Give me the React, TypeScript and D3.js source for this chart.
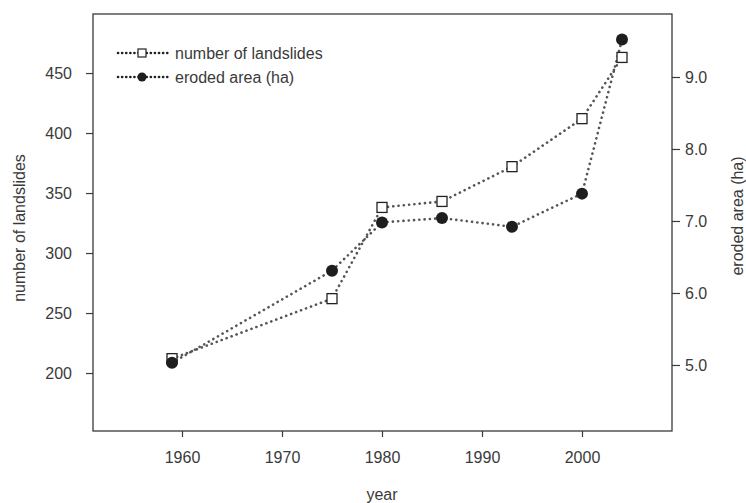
// @ts-nocheck
import React, { useEffect, useRef } from 'react';
import * as d3 from 'd3';

// data
const years = [1959, 1975, 1980, 1986, 1993, 2000, 2004];
const landslides = [212, 262, 338, 343, 372, 412, 463];
const erodedArea = [5.03, 6.31, 6.98, 7.04, 6.92, 7.38, 9.52];

const yearTicks = [1960, 1970, 1980, 1990, 2000];
const leftTicks = [200, 250, 300, 350, 400, 450];
const rightTicks = [5, 6, 7, 8, 9];

const seriesNames = ['number of landslides', 'eroded area (ha)'];

const W = 746, H = 503;
const box = { left: 93, right: 672, top: 14, bottom: 431 };
const font = '"Liberation Sans", Arial, sans-serif';
const ink = '#3a3a3a';
const dotLine = { stroke: '#555', width: 2.6, dash: '0.1 5.2' };

export default function App() {
    const ref = useRef(null);

    useEffect(() => {
        const svg = d3.select(ref.current);
        svg.selectAll('*').remove();

        const x = d3.scaleLinear().domain([1951.1, 2009]).range([box.left, box.right]);
        const yL = d3.scaleLinear().domain([151.7, 499.2]).range([box.bottom, box.top]);
        const yR = d3.scaleLinear().domain([4.083, 9.875]).range([box.bottom, box.top]);

        // frame
        svg.append('rect')
            .attr('x', box.left).attr('y', box.top)
            .attr('width', box.right - box.left).attr('height', box.bottom - box.top)
            .attr('fill', 'none').attr('stroke', ink).attr('stroke-width', 1.3);

        const styleAxis = (g) => {
            g.select('.domain').remove();
            g.selectAll('line').attr('stroke', ink).attr('stroke-width', 1.2);
            g.selectAll('text').attr('fill', ink).style('font-family', font).style('font-size', '16px');
        };

        svg.append('g')
            .attr('transform', `translate(0,${box.bottom})`)
            .call(d3.axisBottom(x).tickValues(yearTicks).tickSize(6).tickPadding(15).tickFormat(d3.format('d')))
            .call(styleAxis);

        svg.append('g')
            .attr('transform', `translate(${box.left},0)`)
            .call(d3.axisLeft(yL).tickValues(leftTicks).tickSize(7).tickPadding(14).tickFormat(d3.format('d')))
            .call(styleAxis);

        svg.append('g')
            .attr('transform', `translate(${box.right},0)`)
            .call(d3.axisRight(yR).tickValues(rightTicks).tickSize(8).tickPadding(5).tickFormat(d3.format('.1f')))
            .call(styleAxis);

        // axis titles
        const title = (tx, ty, rot, txt) => svg.append('text')
            .attr('transform', `translate(${tx},${ty}) rotate(${rot})`)
            .attr('text-anchor', 'middle')
            .attr('dominant-baseline', 'central')
            .attr('fill', ink)
            .style('font-family', font).style('font-size', '16px')
            .text(txt);
        title(382, 494, 0, 'year');
        title(19, 228, -90, seriesNames[0]);
        title(737, 216, -90, seriesNames[1]);

        const landData = years.map((yr, i) => ({ yr, v: landslides[i] }));
        const areaData = years.map((yr, i) => ({ yr, v: erodedArea[i] }));

        const lineL = d3.line().x(d => x(d.yr)).y(d => yL(d.v));
        const lineR = d3.line().x(d => x(d.yr)).y(d => yR(d.v));

        const drawLine = (d) => svg.append('path')
            .attr('d', d)
            .attr('fill', 'none')
            .attr('stroke', dotLine.stroke)
            .attr('stroke-width', dotLine.width)
            .attr('stroke-linecap', 'round')
            .attr('stroke-dasharray', dotLine.dash);

        drawLine(lineL(landData));
        drawLine(lineR(areaData));

        // open squares for landslides
        const sq = 10;
        svg.append('g').selectAll('rect')
            .data(landData)
            .join('rect')
            .attr('x', d => x(d.yr) - sq / 2)
            .attr('y', d => yL(d.v) - sq / 2)
            .attr('width', sq).attr('height', sq)
            .attr('fill', 'white').attr('stroke', '#222').attr('stroke-width', 1.3);

        // filled circles for eroded area
        svg.append('g').selectAll('circle')
            .data(areaData)
            .join('circle')
            .attr('cx', d => x(d.yr))
            .attr('cy', d => yR(d.v))
            .attr('r', 6)
            .attr('fill', '#1e1e1e');

        // legend
        const legend = svg.append('g');
        const rows = [53, 77];
        rows.forEach((ly, i) => {
            legend.append('line')
                .attr('x1', 118).attr('x2', 168).attr('y1', ly).attr('y2', ly)
                .attr('stroke', '#222').attr('stroke-width', 2.6)
                .attr('stroke-linecap', 'round').attr('stroke-dasharray', '0.1 4');
            if (i === 0) {
                legend.append('rect')
                    .attr('x', 142 - 4).attr('y', ly - 4).attr('width', 8).attr('height', 8)
                    .attr('fill', 'white').attr('stroke', '#222').attr('stroke-width', 1.2);
            } else {
                legend.append('circle')
                    .attr('cx', 142).attr('cy', ly).attr('r', 4.5).attr('fill', '#1e1e1e');
            }
            legend.append('text')
                .attr('x', 175).attr('y', ly)
                .attr('dominant-baseline', 'central')
                .attr('fill', ink)
                .style('font-family', font).style('font-size', '16px')
                .text(seriesNames[i]);
        });
    }, []);

    return (
        <svg ref={ref} width={W} height={H}
            style={{ position: 'absolute', left: 0, top: 0, background: 'white' }} />
    );
}
